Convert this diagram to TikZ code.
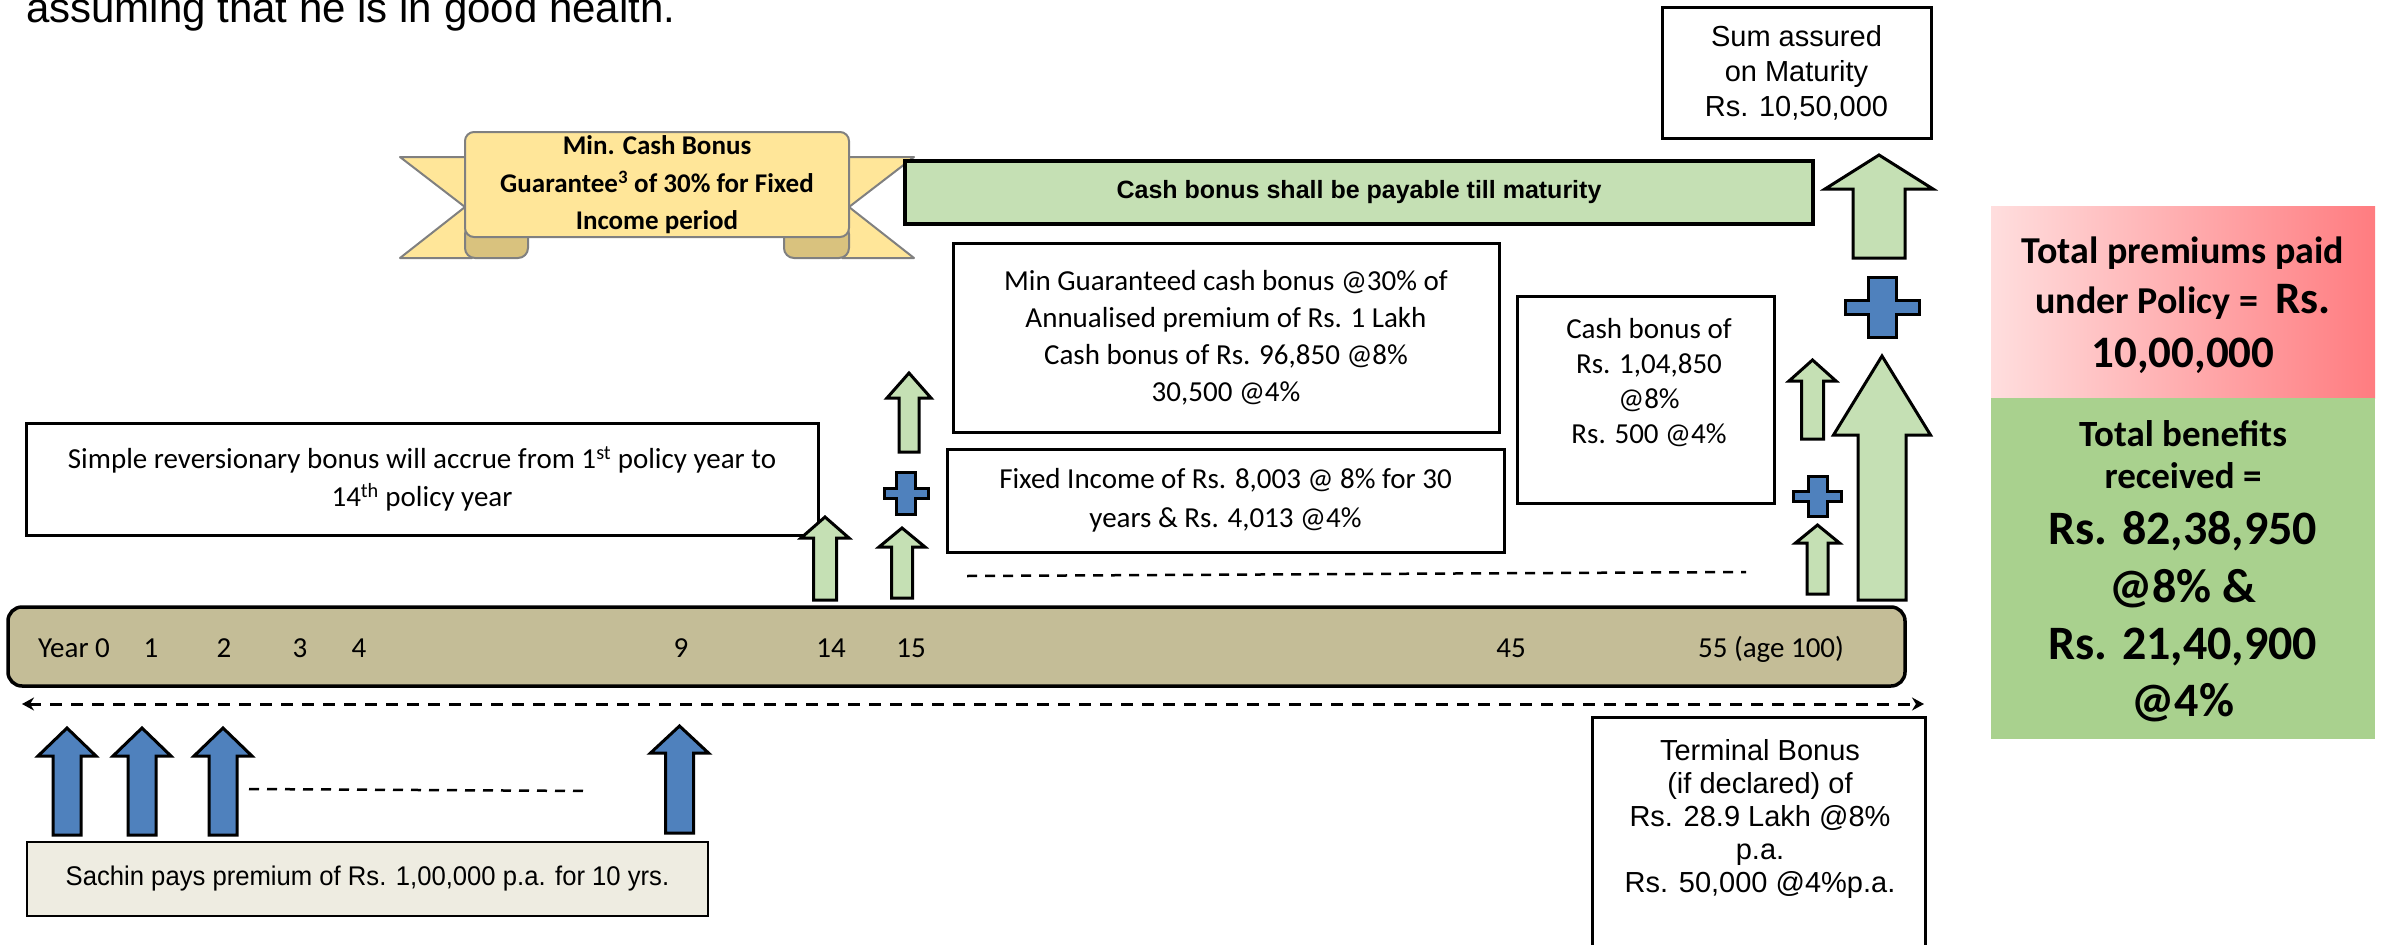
\documentclass[tikz,border=0pt]{standalone}
\usepackage{fontspec}
\setmainfont{Carlito}
\newfontfamily\arialfont{Liberation Sans}
\newfontfamily\arialnarrow[FakeStretch=0.95]{Liberation Sans}
\usetikzlibrary{arrows.meta}

\definecolor{ribbonfill}{HTML}{FFE699}
\definecolor{ribbondark}{HTML}{D9C27E}
\definecolor{ribbonline}{HTML}{808080}
\definecolor{bonusgreen}{HTML}{C5E0B4}
\definecolor{plusblue}{HTML}{4F81BD}
\definecolor{timelinetan}{HTML}{C4BD97}
\definecolor{premiumbg}{HTML}{EEECE1}
\definecolor{pinklight}{HTML}{FFDEDE}
\definecolor{pinkdark}{HTML}{FF7C80}
\definecolor{benefitgreen}{HTML}{A9D18E}

\tikzset{
  infobox/.style={draw=black, line width=3pt, fill=white, inner sep=0pt, align=center},
  boxtext/.style={align=center, inner sep=0pt, font=\fontsize{29}{37}\selectfont},
  arialtext/.style={align=center, inner sep=0pt, font=\arialfont\fontsize{29}{35}\selectfont},
  ribbonshape/.style={draw=ribbonline, line width=2pt, fill=ribbonfill, line join=round},
  greenarrow/.style={draw=black, line width=3pt, fill=bonusgreen},
  payarrow/.style={draw=black, line width=3pt, fill=plusblue},
  plussign/.style={draw=black, line width=3pt, fill=plusblue},
  gapline/.style={draw=black, line width=2.5pt, dash pattern=on 10pt off 8pt},
  yearlabel/.style={anchor=base, inner sep=0pt, font=\fontsize{29}{29}\selectfont},
  paneltext/.style={anchor=base, inner sep=0pt, font=\bfseries\fontsize{38}{38}\selectfont},
}

\begin{document}
\begin{tikzpicture}[x=1pt,y=-1pt]
    \useasboundingbox (0,0) rectangle (2386,945);
    \clip (0,0) rectangle (2386,945);

    \node[anchor=base west, inner sep=0pt, font=\arialfont\fontsize{42}{42}\selectfont] (intro) at (26,22) {assuming that he is in good health.};

    % ribbon
    \draw[ribbonshape] (400,157) -- (472,157) -- (472,258) -- (400,258) -- (465,207) -- cycle;
    \draw[ribbonshape] (914,157) -- (842,157) -- (842,258) -- (914,258) -- (849,207) -- cycle;
    \draw[ribbonshape, fill=ribbondark, rounded corners=10] (465,224) rectangle (528,258);
    \draw[ribbonshape, fill=ribbondark, rounded corners=10] (784,224) rectangle (849,258);
    \draw[ribbonshape, rounded corners=9] (465,132) rectangle (849,237);
    \node[align=center, inner sep=0pt, font=\bfseries\fontsize{27}{37.5}\selectfont] (guarantee) at (657,185) {Min. Cash Bonus\\Guarantee\textsuperscript{3} of 30\% for Fixed\\Income period};

    \node[draw=black, line width=3.5pt, fill=bonusgreen, minimum width=908, minimum height=63, inner sep=0pt, font=\arialfont\bfseries\fontsize{25}{25}\selectfont] (payable) at (1359,192.5) {Cash bonus shall be payable till maturity};

    % boxes
    \node[infobox, arialtext, minimum width=269, minimum height=131] (sumbox) at (1796.5,72.5) {Sum assured\\on Maturity\\Rs. 10,50,000};
    \node[infobox, boxtext, minimum width=546, minimum height=189] (minbox) at (1226,337.5) {Min Guaranteed cash bonus @30\% of\\Annualised premium of Rs. 1 Lakh\\Cash bonus of Rs. 96,850 @8\%\\30,500 @4\%};
    \node[infobox, minimum width=257, minimum height=207] (cashbox) at (1645.5,399.5) {};
    \node[boxtext, font=\fontsize{29}{35}\selectfont] (cashtext) at (1649,383) {Cash bonus of\\Rs. 1,04,850\\@8\%\\Rs. 500 @4\%};
    \node[infobox, boxtext, font=\fontsize{29}{39}\selectfont, minimum width=557, minimum height=103] (fixedbox) at (1225.5,500.5) {Fixed Income of Rs. 8,003 @ 8\% for 30\\years \& Rs. 4,013 @4\%};
    \node[infobox, boxtext, font=\fontsize{29}{38}\selectfont, minimum width=792, minimum height=112] (srbox) at (422,479) {Simple reversionary bonus will accrue from 1\textsuperscript{st} policy year to\\14\textsuperscript{th} policy year};
    \node[infobox, minimum width=333, minimum height=260] (termbox) at (1758.5,847) {};
    \node[arialtext, font=\arialfont\fontsize{29}{33}\selectfont] (termtext) at (1760,819) {Terminal Bonus\\(if declared) of\\Rs. 28.9 Lakh @8\%\\p.a.\\Rs. 50,000 @4\%p.a.};
    \node[infobox, fill=premiumbg, line width=2.5pt, minimum width=681, minimum height=74, font=\arialnarrow\fontsize{27}{27}\selectfont] (paybox) at (367.5,879) {Sachin pays premium of Rs. 1,00,000 p.a. for 10 yrs.};

    % timeline
    \node[draw=black, line width=3.5pt, fill=timelinetan, rounded corners=14, minimum width=1897, minimum height=79] (timeline) at (956.5,646.5) {};
    \foreach \lx/\lab [count=\i] in {74/Year 0, 151/1, 224/2, 300/3, 359/4, 681/9, 831/14, 911/15, 1511/45, 1771/55 (age 100)}
        \node[yearlabel] (year\i) at (\lx,657) {\lab};

    \coordinate (spanL) at (22,704);
    \coordinate (spanR) at (1924,704);
    \draw[line width=3pt, dash pattern=on 12pt off 9pt, {Stealth[length=12pt,width=13pt]}-{Stealth[length=12pt,width=13pt]}] (spanL) -- (spanR);

    \coordinate (dotsA) at (249,789);
    \coordinate (dotsB) at (590,791);
    \coordinate (dotsC) at (967,576);
    \coordinate (dotsD) at (1746,572);
    \draw[gapline] (dotsA) -- (dotsB) (dotsC) -- (dotsD);

    % premium arrows
    \foreach \cx/\tip/\base/\bot in {67/728/756/835, 142/728/756/835, 223/728/756/835, 679.5/726/753/833}
        \draw[payarrow] (\cx-14,\bot) -- (\cx-14,\base) -- (\cx-29,\base) -- (\cx,\tip) -- (\cx+29,\base) -- (\cx+14,\base) -- (\cx+14,\bot) -- cycle;

    % benefit arrows
    \foreach \cx/\tip/\base/\bot/\sw/\hw in {825/517/538/600/11.5/24, 902/528/547/598/10.5/23, 909/373/398/452/10/22, 1812.5/360/381/439/11/23.5, 1817.5/525/543/594/10.5/22, 1879/155/189/258/26/54, 1882/356/435/600/24/48.5}
        \draw[greenarrow] (\cx-\sw,\bot) -- (\cx-\sw,\base) -- (\cx-\hw,\base) -- (\cx,\tip) -- (\cx+\hw,\base) -- (\cx+\sw,\base) -- (\cx+\sw,\bot) -- cycle;

    % plus signs
    \foreach \px/\py/\bw/\bh/\aw/\ah in {1882/307/14/30/37/7, 1817.5/496/9.5/20/24/5, 906/493/9.5/21/22/5}
        \draw[plussign] (\px-\bw,\py-\bh) -- (\px+\bw,\py-\bh) -- (\px+\bw,\py-\ah) -- (\px+\aw,\py-\ah) -- (\px+\aw,\py+\ah) -- (\px+\bw,\py+\ah) -- (\px+\bw,\py+\bh) -- (\px-\bw,\py+\bh) -- (\px-\bw,\py+\ah) -- (\px-\aw,\py+\ah) -- (\px-\aw,\py-\ah) -- (\px-\bw,\py-\ah) -- cycle;

    % totals
    \node[left color=pinklight, right color=pinkdark, minimum width=384, minimum height=192, inner sep=0pt] (paidpanel) at (2183,302) {};
    \node[fill=benefitgreen, minimum width=384, minimum height=341, inner sep=0pt] (benefitpanel) at (2183,568.5) {};
    \node[paneltext] (paid1) at (2183,263) {Total premiums paid};
    \node[paneltext] (paid2) at (2183,313) {under Policy = \ {\fontsize{45}{45}\selectfont Rs.}};
    \node[paneltext, font=\bfseries\fontsize{45}{45}\selectfont] (paid3) at (2183,367) {10,00,000};
    \foreach \by/\fs/\txt [count=\i] in {446/37/Total benefits, 488/37/received =, 544/48/{Rs. 82,38,950}, 602/48/@8\% \&, 659/48/{Rs. 21,40,900}, 716/48/@4\%}
        \node[paneltext, font=\bfseries\fontsize{\fs}{\fs}\selectfont] (benefit\i) at (2183,\by) {\txt};

\end{tikzpicture}
\end{document}
